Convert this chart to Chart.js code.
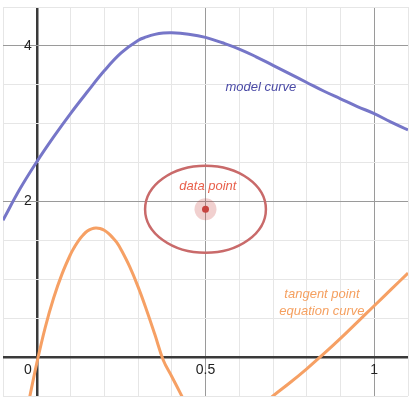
<!DOCTYPE html>
<html><head><meta charset="utf-8">
<style>html,body{margin:0;padding:0;background:#fff;overflow:hidden}canvas{display:block}</style>
<script src="https://cdn.jsdelivr.net/npm/chart.js@4.4.1/dist/chart.umd.min.js"></script>
</head><body>
<canvas id="c" width="413" height="399"></canvas>
<script>
// ---- data ----
const modelX = [-0.1,-0.05,0,0.05,0.1,0.15,0.2,0.25,0.3,0.325,0.35,0.375,0.4,0.45,0.5,0.55,0.6,0.65,0.7,0.75,0.8,0.85,0.9,0.95,1.0,1.05,1.1];
const modelY = [1.76,2.16,2.51,2.83,3.13,3.41,3.68,3.91,4.07,4.115,4.148,4.166,4.17,4.15,4.11,4.04,3.96,3.86,3.75,3.64,3.53,3.42,3.32,3.22,3.13,3.02,2.92];
const tangentX = [-0.025,0,0.025,0.05,0.075,0.1,0.1125,0.125,0.1375,0.15,0.1625,0.175,0.1875,0.2,0.2125,0.225,0.2375,0.25,0.275,0.3,0.325,0.35,0.375,0.4,0.425,0.45,0.55,0.675,0.7,0.75,0.8,0.85,0.9,0.95,1.0,1.05,1.1];
const tangentY = [-0.6,-0.08,0.38,0.76,1.07,1.32,1.42,1.505,1.57,1.62,1.648,1.66,1.653,1.63,1.59,1.535,1.47,1.38,1.165,0.906,0.61,0.29,-0.04,-0.25,-0.46,-0.68,null,-0.6,-0.5,-0.33,-0.15,0.04,0.24,0.45,0.66,0.87,1.08];
const dataPointX = [0.5];
const dataPointY = [1.9];
const ellipseCenter = [0.5, 1.9];
const ellipseRadii = [0.179, 0.56];
const xTickValues = [0, 0.5, 1];
const xTickLabels = ['0', '0.5', '1'];
const yTickValues = [2, 4];
const yTickLabels = ['2', '4'];
const labelTexts = ['model curve', 'data point', 'tangent point', 'equation curve'];
const labelX = [0.664, 0.507, 0.845, 0.845];
const labelY = [3.47, 2.19, 0.80, 0.59];
const labelColors = ['#4a4aa6', '#e8604c', '#f5a060', '#f5a060'];

const toXY = (xs, ys) => xs.map((v, i) => ({x: v, y: ys[i]}));
const near = (a, b) => Math.abs(a - b) < 1e-6;

const overlay = {
  id: 'overlay',
  beforeDatasetsDraw(chart) {
    const {ctx, chartArea: a, scales: {x, y}} = chart;
    ctx.save();
    ctx.beginPath(); ctx.rect(a.left, a.top, a.right - a.left, a.bottom - a.top); ctx.clip();
    const cx = x.getPixelForValue(ellipseCenter[0]), cy = y.getPixelForValue(ellipseCenter[1]);
    const rx = Math.abs(x.getPixelForValue(ellipseCenter[0] + ellipseRadii[0]) - cx);
    const ry = Math.abs(y.getPixelForValue(ellipseCenter[1] + ellipseRadii[1]) - cy);
    ctx.beginPath(); ctx.ellipse(cx, cy, rx, ry, 0, 0, Math.PI * 2);
    ctx.strokeStyle = '#c96a6a'; ctx.lineWidth = 2.5; ctx.stroke();
    ctx.restore();
  },
  afterDatasetsDraw(chart) {
    const {ctx, scales: {x, y}} = chart;
    ctx.save();
    const x0 = x.getPixelForValue(0), y0 = y.getPixelForValue(0);
    ctx.font = '14px "Liberation Sans", Arial, sans-serif';
    ctx.fillStyle = '#222';
    ctx.textBaseline = 'middle';
    xTickValues.forEach((v, i) => {
      if (v === 0) { ctx.textAlign = 'right'; ctx.fillText(xTickLabels[i], x0 - 5, y0 + 13); }
      else { ctx.textAlign = 'center'; ctx.fillText(xTickLabels[i], x.getPixelForValue(v), y0 + 13); }
    });
    ctx.textAlign = 'right';
    yTickValues.forEach((v, i) => ctx.fillText(yTickLabels[i], x0 - 5, y.getPixelForValue(v)));
    ctx.font = 'italic 13px "Liberation Sans", Arial, sans-serif';
    ctx.textAlign = 'center';
    labelTexts.forEach((t, i) => {
      ctx.fillStyle = labelColors[i];
      ctx.fillText(t, x.getPixelForValue(labelX[i]), y.getPixelForValue(labelY[i]));
    });
    ctx.restore();
  }
};

const gridColor = (majors) => (c) => {
  const v = c.tick.value;
  if (near(v, 0)) return '#3a3a3a';
  if (majors.some(m => near(v, m))) return '#9a9a9a';
  return '#e6e6e6';
};
const gridWidth = (c) => near(c.tick.value, 0) ? 2.5 : 1;

new Chart(document.getElementById('c'), {
  type: 'scatter',
  data: {
    datasets: [
      { data: toXY(dataPointX, dataPointY), pointRadius: 3.5, pointBackgroundColor: '#c74440', pointBorderWidth: 0, order: 0 },
      { data: toXY(dataPointX, dataPointY), pointRadius: 11, pointBackgroundColor: 'rgba(199,68,64,0.25)', pointBorderWidth: 0, order: 1 },
      { data: toXY(modelX, modelY), showLine: true, borderColor: '#7676c8', borderWidth: 3, pointRadius: 0, tension: 0.4, order: 2 },
      { data: toXY(tangentX, tangentY), showLine: true, spanGaps: false, borderColor: '#f6a064', borderWidth: 3, pointRadius: 0, tension: 0.4, order: 3 }
    ]
  },
  options: {
    responsive: false,
    animation: false,
    layout: { autoPadding: false, padding: { left: 3, top: 7, right: 5, bottom: 3 } },
    plugins: { legend: { display: false }, tooltip: { enabled: false } },
    scales: {
      x: {
        type: 'linear', min: -0.1, max: 1.1,
        ticks: { display: false, stepSize: 0.1 },
        grid: { drawTicks: false, color: gridColor([0.5, 1]), lineWidth: gridWidth },
        border: { display: false }
      },
      y: {
        type: 'linear', min: -0.5, max: 4.5,
        ticks: { display: false, stepSize: 0.5 },
        grid: { drawTicks: false, color: gridColor([2, 4]), lineWidth: gridWidth },
        border: { display: false }
      }
    }
  },
  plugins: [overlay]
});
</script>
</body></html>
